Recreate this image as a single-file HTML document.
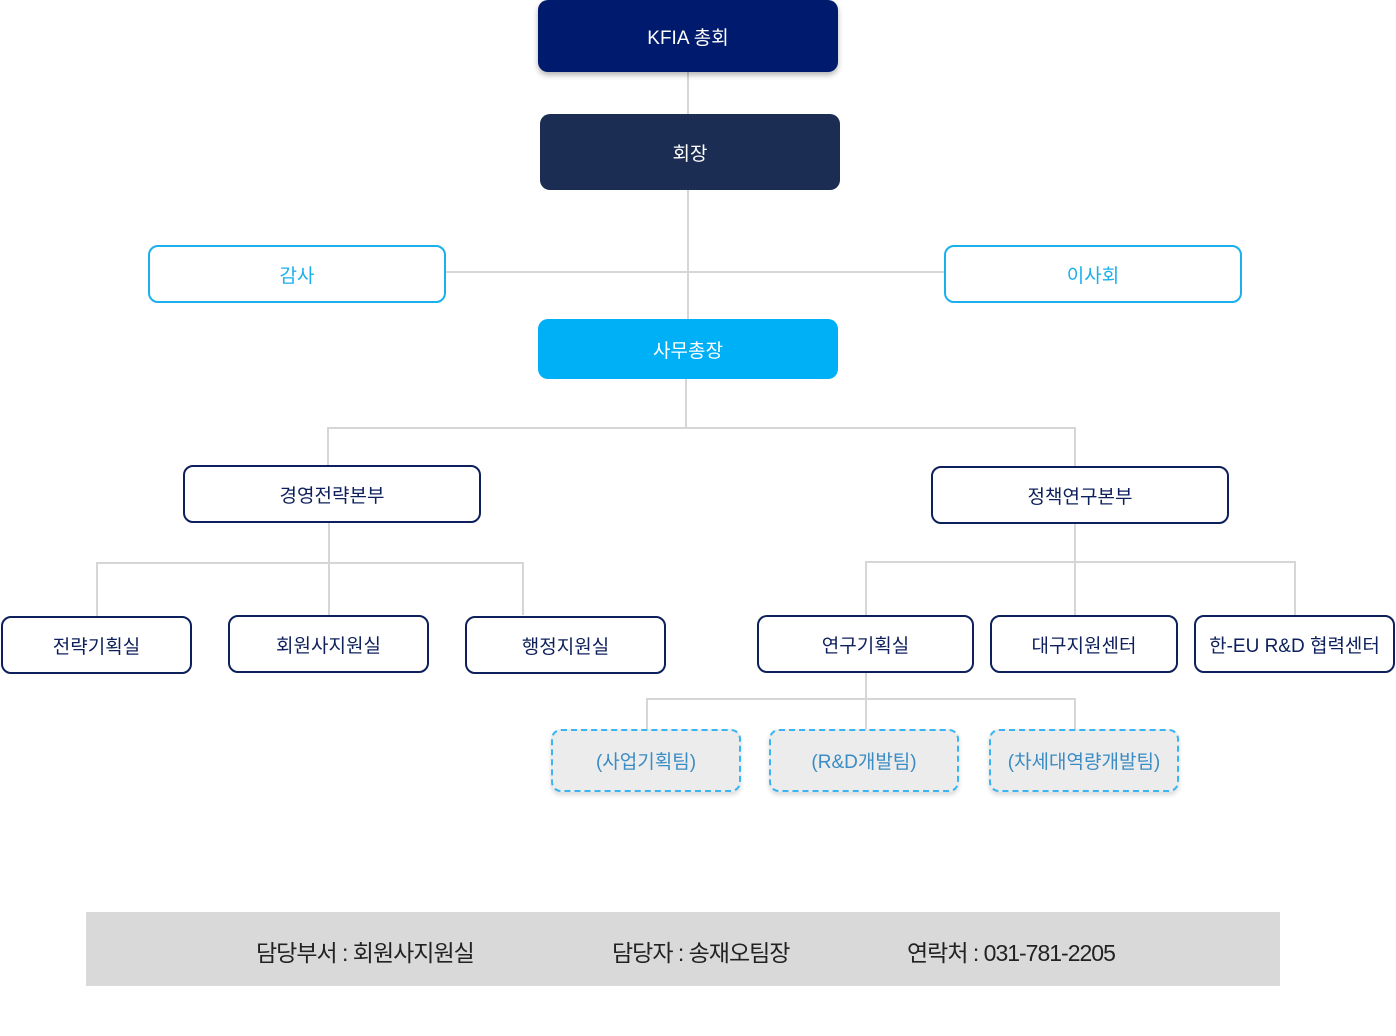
<!DOCTYPE html>
<html><head><meta charset="utf-8"><style>
body{margin:0;width:1396px;height:1036px;background:#fff;position:relative;overflow:hidden;font-family:"Liberation Sans","Noto Sans CJK KR",sans-serif;}
.b{position:absolute;box-sizing:border-box;display:flex;align-items:center;justify-content:center;font-size:19px;border-radius:10px;}
.l{position:absolute;background:#d6d6d6;}
.o{border:2px solid #0d1f5c;color:#0d1f5c;background:#fff;}
.c{border:2px solid #1ab0ec;color:#1ab0ec;background:#fff;}
.d{border:2px dashed #3ab4f2;color:#3a8cc4;background:#ececec;box-shadow:0 3px 5px rgba(0,0,0,.15);}
.f{position:absolute;top:934px;font-size:23px;color:#222;letter-spacing:-1px}
</style></head><body>
<div class="l" style="left:687px;top:72px;width:2px;height:247px"></div>
<div class="l" style="left:446px;top:271px;width:498px;height:2px"></div>
<div class="l" style="left:685px;top:379px;width:2px;height:50px"></div>
<div class="l" style="left:327px;top:427px;width:749px;height:2px"></div>
<div class="l" style="left:327px;top:427px;width:2px;height:38px"></div>
<div class="l" style="left:1074px;top:427px;width:2px;height:39px"></div>
<div class="l" style="left:328px;top:523px;width:2px;height:92px"></div>
<div class="l" style="left:96px;top:562px;width:428px;height:2px"></div>
<div class="l" style="left:96px;top:562px;width:2px;height:54px"></div>
<div class="l" style="left:522px;top:562px;width:2px;height:53px"></div>
<div class="l" style="left:1074px;top:524px;width:2px;height:91px"></div>
<div class="l" style="left:865px;top:561px;width:431px;height:2px"></div>
<div class="l" style="left:865px;top:561px;width:2px;height:54px"></div>
<div class="l" style="left:1294px;top:561px;width:2px;height:54px"></div>
<div class="l" style="left:865px;top:673px;width:2px;height:56px"></div>
<div class="l" style="left:646px;top:698px;width:430px;height:2px"></div>
<div class="l" style="left:646px;top:698px;width:2px;height:31px"></div>
<div class="l" style="left:1074px;top:698px;width:2px;height:31px"></div>

<div class="b" style="left:538px;top:0;width:300px;height:72px;background:#001a6e;color:#fff;box-shadow:0 3px 6px rgba(0,0,0,.3)">KFIA 총회</div>
<div class="b" style="left:540px;top:114px;width:300px;height:76px;background:#1c2d54;color:#fff">회장</div>
<div class="b c" style="left:148px;top:245px;width:298px;height:58px">감사</div>
<div class="b c" style="left:944px;top:245px;width:298px;height:58px">이사회</div>
<div class="b" style="left:538px;top:319px;width:300px;height:60px;background:#00b0f6;color:#fff">사무총장</div>
<div class="b o" style="left:183px;top:465px;width:298px;height:58px">경영전략본부</div>
<div class="b o" style="left:931px;top:466px;width:298px;height:58px">정책연구본부</div>
<div class="b o" style="left:1px;top:616px;width:191px;height:58px">전략기획실</div>
<div class="b o" style="left:228px;top:615px;width:201px;height:58px">회원사지원실</div>
<div class="b o" style="left:465px;top:616px;width:201px;height:58px">행정지원실</div>
<div class="b o" style="left:757px;top:615px;width:217px;height:58px">연구기획실</div>
<div class="b o" style="left:990px;top:615px;width:188px;height:58px">대구지원센터</div>
<div class="b o" style="left:1194px;top:615px;width:201px;height:58px">한-EU R&amp;D 협력센터</div>
<div class="b d" style="left:551px;top:729px;width:190px;height:63px">(사업기획팀)</div>
<div class="b d" style="left:769px;top:729px;width:190px;height:63px">(R&amp;D개발팀)</div>
<div class="b d" style="left:989px;top:729px;width:190px;height:63px">(차세대역량개발팀)</div>

<div style="position:absolute;left:86px;top:912px;width:1194px;height:74px;background:#d9d9d9"></div>
<div class="f" style="left:256px">담당부서 : 회원사지원실</div>
<div class="f" style="left:612px">담당자 : 송재오팀장</div>
<div class="f" style="left:907px">연락처 : 031-781-2205</div>
</body></html>
